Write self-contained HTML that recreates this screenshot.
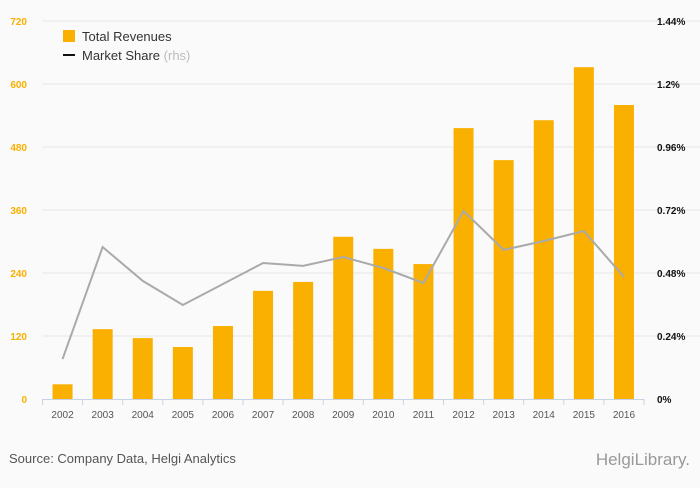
<!DOCTYPE html>
<html><head><meta charset="utf-8"><style>
body{margin:0;background:#fafafa;font-family:"Liberation Sans",sans-serif}
svg text{font-family:"Liberation Sans",sans-serif}
</style></head><body>
<svg id="c" width="700" height="483">
<rect width="700" height="483" fill="#fafafa"/>
<g id="grid"></g><g id="bars"></g><g id="line"></g><g id="axes"></g>
<g>
<rect x="63" y="30" width="12" height="12" fill="#f9b000"/>
<text x="82" y="41" font-size="13" fill="#333">Total Revenues</text>
<rect x="63" y="54" width="12" height="2" fill="#111"/>
<text x="82" y="60" font-size="13" fill="#333">Market Share <tspan fill="#bbb">(rhs)</tspan></text>
</g>
<text x="9" y="463" font-size="13" fill="#555">Source: Company Data, Helgi Analytics</text>
<text x="690" y="465" font-size="17" fill="#999" text-anchor="end">HelgiLibrary.</text>
</svg>
<script>
const years=['2002','2003','2004','2005','2006','2007','2008','2009','2010','2011','2012','2013','2014','2015','2016'];
const revenues=[28,133,116,99,139,206,223,309,286,257,516,455,531,632,560];
const share=[0.152,0.579,0.45,0.358,0.438,0.518,0.507,0.541,0.499,0.442,0.716,0.568,0.602,0.64,0.465];
const leftTicks=[0,120,240,360,480,600,720];
const rightTicks=['0%','0.24%','0.48%','0.72%','0.96%','1.2%','1.44%'];
const NS='http://www.w3.org/2000/svg';
const x0=42.5,x1=644,y0=399,y1=21;
const bw=(x1-x0)/years.length;
const xc=i=>x0+bw*(i+0.5);
const yL=v=>y0-(v/720)*(y0-y1);
const yR=v=>y0-(v/1.44)*(y0-y1);
function mk(t,a,p){const e=document.createElementNS(NS,t);for(const k in a)e.setAttribute(k,a[k]);p.appendChild(e);return e;}
const g=document.getElementById('grid'),b=document.getElementById('bars'),l=document.getElementById('line'),ax=document.getElementById('axes');
leftTicks.forEach((v,i)=>{
 if(i>0){const gl=mk('line',{x1:x0,x2:700,y1:yL(v),y2:yL(v),stroke:'#e6e6e6'},g);
 
 }
 const t=mk('text',{x:27,y:yL(v)+4,'font-size':10,fill:'#f9b000','text-anchor':'end','font-weight':'bold'},ax);t.textContent=v;
 
 
 const r=mk('text',{x:657,y:yL(v)+4,'font-size':10,fill:'#111','font-weight':'bold'},ax);r.textContent=rightTicks[i];
 
 
});
years.forEach((y,i)=>{
 const r=mk('rect',{x:xc(i)-10,y:yL(revenues[i]),width:20,height:y0-yL(revenues[i]),fill:'#f9b000'},b);
 
 
 const t=mk('text',{x:xc(i),y:418,'font-size':10,fill:'#555','text-anchor':'middle'},ax);t.textContent=y;
 
 
});
const axl=mk('line',{x1:x0,x2:x1,y1:y0+0.5,y2:y0+0.5,stroke:'#c8d4e6'},ax);


for(let i=0;i<=years.length;i++){const tk=mk('line',{x1:x0+bw*i,x2:x0+bw*i,y1:y0,y2:y0+6,stroke:'#c8d4e6'},ax);
 
 }
const pl=mk('polyline',{points:share.map((v,i)=>xc(i)+','+yR(v)).join(' '),fill:'none',stroke:'#aaa','stroke-width':2},l);


</script>
</body></html>
